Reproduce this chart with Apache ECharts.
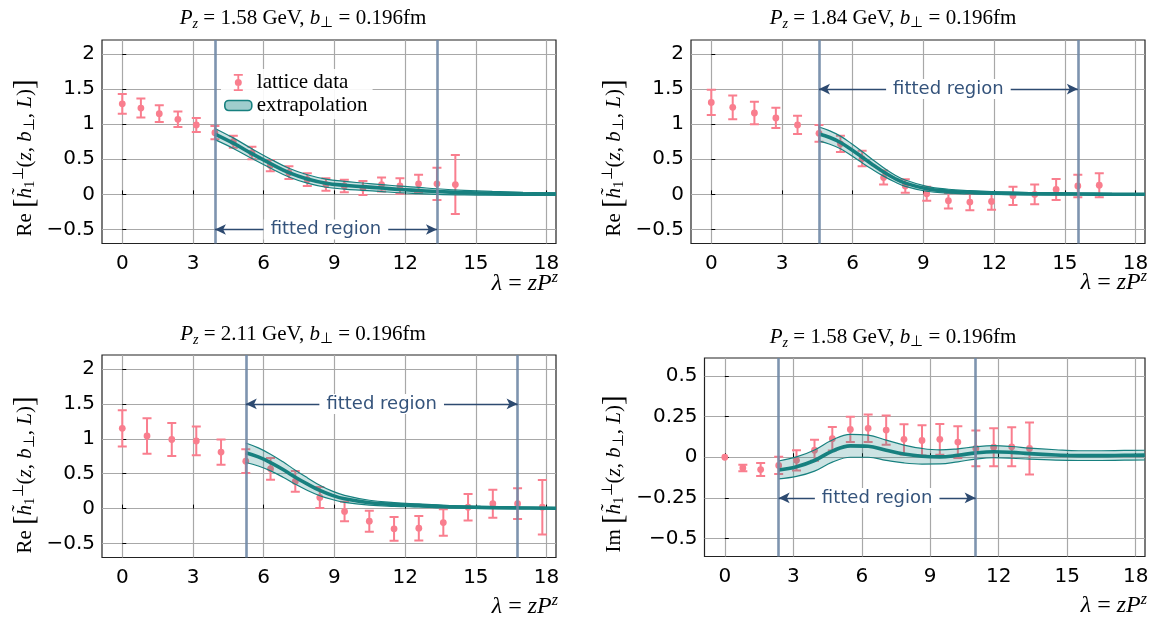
<!DOCTYPE html>
<html>
<head>
<meta charset="utf-8">
<script src="https://cdn.jsdelivr.net/npm/echarts@6.0.0/dist/echarts.min.js"></script>
<style>html,body{margin:0;padding:0;background:#fff}#c{width:1155px;height:619px}</style>
</head>
<body>
<div id="c"></div>
<script>
// ---------------- data ----------------
const xTicks = [0, 3, 6, 9, 12, 15, 18];
const yTicksRe = [-0.5, 0, 0.5, 1, 1.5, 2];
const yTicksIm = [-0.5, -0.25, 0, 0.25, 0.5];

// Panel A: Re, Pz = 1.58 GeV
const lamA = [0, 0.79, 1.57, 2.36, 3.14, 3.93, 4.71, 5.50, 6.28, 7.07, 7.85, 8.64, 9.42, 10.21, 11.00, 11.78, 12.57, 13.35, 14.13];
const valA = [1.29, 1.23, 1.15, 1.07, 0.99, 0.88, 0.75, 0.59, 0.41, 0.31, 0.21, 0.14, 0.12, 0.09, 0.14, 0.12, 0.15, 0.15, 0.14];
const errA = [0.14, 0.135, 0.12, 0.11, 0.10, 0.095, 0.085, 0.09, 0.08, 0.09, 0.09, 0.09, 0.09, 0.10, 0.10, 0.11, 0.13, 0.23, 0.42];
const bandXA = [3.93, 4.71, 5.50, 6.28, 7.07, 7.85, 8.64, 9.42, 10.21, 11.00, 11.78, 12.57, 13.35, 14.5, 15.7, 17.0, 18.4];
const bandMidA = [0.86, 0.73, 0.58, 0.44, 0.31, 0.22, 0.16, 0.13, 0.11, 0.09, 0.07, 0.055, 0.04, 0.025, 0.015, 0.008, 0.004];
const bandHalfA = [0.08, 0.075, 0.07, 0.065, 0.062, 0.06, 0.058, 0.055, 0.052, 0.05, 0.047, 0.044, 0.04, 0.033, 0.027, 0.022, 0.018];
const fitA = [3.93, 13.35];

// Panel B: Re, Pz = 1.84 GeV
const lamB = [0, 0.91, 1.83, 2.74, 3.66, 4.57, 5.48, 6.40, 7.31, 8.23, 9.14, 10.06, 10.97, 11.89, 12.80, 13.72, 14.63, 15.55, 16.46];
const valB = [1.31, 1.24, 1.16, 1.09, 0.99, 0.87, 0.72, 0.51, 0.24, 0.12, 0.01, -0.09, -0.11, -0.10, -0.02, 0.00, 0.07, 0.12, 0.13];
const errB = [0.18, 0.17, 0.16, 0.145, 0.13, 0.12, 0.115, 0.11, 0.10, 0.095, 0.10, 0.11, 0.115, 0.12, 0.13, 0.14, 0.15, 0.16, 0.17];
const bandXB = [4.57, 5.03, 5.48, 5.94, 6.40, 6.86, 7.31, 7.77, 8.23, 9.14, 10.06, 10.97, 11.89, 13.5, 15.5, 17.0, 18.4];
const bandMidB = [0.86, 0.81, 0.74, 0.64, 0.53, 0.42, 0.32, 0.23, 0.16, 0.08, 0.045, 0.03, 0.02, 0.01, 0.005, 0.002, 0.001];
const bandHalfB = [0.10, 0.095, 0.09, 0.085, 0.08, 0.07, 0.06, 0.05, 0.045, 0.035, 0.028, 0.024, 0.02, 0.016, 0.013, 0.011, 0.01];
const fitB = [4.57, 15.55];

// Panel C: Re, Pz = 2.11 GeV
const lamC = [0, 1.05, 2.10, 3.14, 4.19, 5.24, 6.29, 7.34, 8.38, 9.43, 10.48, 11.53, 12.58, 13.62, 14.67, 15.72, 16.77, 17.82];
const valC = [1.15, 1.04, 0.99, 0.97, 0.81, 0.68, 0.57, 0.39, 0.16, -0.04, -0.18, -0.29, -0.28, -0.20, 0.02, 0.07, 0.07, 0.02];
const errC = [0.26, 0.255, 0.235, 0.205, 0.18, 0.17, 0.155, 0.15, 0.15, 0.14, 0.15, 0.17, 0.175, 0.19, 0.19, 0.20, 0.22, 0.39];
const bandXC = [5.24, 5.77, 6.29, 6.82, 7.34, 7.86, 8.38, 8.91, 9.43, 10.48, 11.53, 12.58, 13.62, 15.2, 16.77, 18.4];
const bandMidC = [0.80, 0.74, 0.66, 0.56, 0.45, 0.35, 0.26, 0.19, 0.14, 0.085, 0.06, 0.045, 0.03, 0.018, 0.01, 0.005];
const bandHalfC = [0.14, 0.13, 0.12, 0.11, 0.10, 0.09, 0.075, 0.06, 0.05, 0.035, 0.027, 0.022, 0.018, 0.014, 0.011, 0.009];
const fitC = [5.24, 16.77];

// Panel D: Im, Pz = 1.58 GeV
const lamD = [0, 0.79, 1.57, 2.36, 3.14, 3.93, 4.71, 5.50, 6.28, 7.07, 7.85, 8.64, 9.42, 10.21, 11.00, 11.78, 12.57, 13.35];
const valD = [0.0, -0.066, -0.076, -0.05, -0.019, 0.043, 0.114, 0.171, 0.178, 0.167, 0.11, 0.103, 0.11, 0.093, 0.054, 0.062, 0.064, 0.054];
const errD = [0, 0.02, 0.04, 0.053, 0.062, 0.065, 0.072, 0.078, 0.085, 0.09, 0.093, 0.093, 0.095, 0.097, 0.11, 0.117, 0.12, 0.16];
const bandXD = [2.36, 3.14, 3.93, 4.71, 5.50, 6.28, 7.07, 7.85, 8.64, 9.42, 10.21, 11.00, 11.78, 12.57, 13.35, 14.5, 15.5, 16.5, 17.5, 18.4];
const bandMidD = [-0.078, -0.058, -0.02, 0.038, 0.07, 0.068, 0.043, 0.02, 0.006, 0.002, 0.012, 0.027, 0.034, 0.03, 0.022, 0.014, 0.01, 0.01, 0.012, 0.013];
const bandHalfD = [0.055, 0.06, 0.065, 0.068, 0.07, 0.068, 0.062, 0.055, 0.048, 0.043, 0.04, 0.038, 0.037, 0.036, 0.034, 0.032, 0.03, 0.03, 0.03, 0.03];
const fitD = [2.36, 10.99];

const titles = ['1.58', '1.84', '2.11', '1.58'];
const parts = ['Re', 'Re', 'Re', 'Im'];
const arrowY = [-0.5, 1.5, 1.5, -0.25];

// ---------------- styling ----------------
const TEAL = '#17807f';
const FILL = 'rgba(23,128,127,0.22)';
const PINK = '#f97e8e';
const VLINE = 'rgba(112,136,166,0.9)';
const ARROW = '#2d4a70';
const TXT = '#34537b';
const GRIDC = '#a8a8a8';

const grids = [
  {left: 102, top: 40, width: 454, height: 203.5},
  {left: 691, top: 40, width: 454, height: 203.5},
  {left: 102, top: 355, width: 454, height: 202.5},
  {left: 704.5, top: 358, width: 440.5, height: 198.5}
];
const xRanges = [[-0.86, 18.4], [-0.86, 18.4], [-0.86, 18.4], [-0.89, 18.41]];
const yRanges = [[-0.7, 2.2], [-0.7, 2.2], [-0.7, 2.2], [-0.61, 0.61]];

const panels = [
  {lam: lamA, val: valA, err: errA, bx: bandXA, bm: bandMidA, bh: bandHalfA, fit: fitA},
  {lam: lamB, val: valB, err: errB, bx: bandXB, bm: bandMidB, bh: bandHalfB, fit: fitB},
  {lam: lamC, val: valC, err: errC, bx: bandXC, bm: bandMidC, bh: bandHalfC, fit: fitC},
  {lam: lamD, val: valD, err: errD, bx: bandXD, bm: bandMidD, bh: bandHalfD, fit: fitD}
];

function renderErr(params, api) {
  const x = api.value(0), y = api.value(1), e = api.value(2);
  const p = api.coord([x, y]);
  const children = [];
  const st = {stroke: PINK, lineWidth: 2};
  if (e > 0) {
    const t = api.coord([x, y + e]), b = api.coord([x, y - e]);
    const cap = 4.5;
    children.push({type: 'line', shape: {x1: p[0], y1: t[1], x2: p[0], y2: b[1]}, style: st});
    children.push({type: 'line', shape: {x1: p[0] - cap, y1: t[1], x2: p[0] + cap, y2: t[1]}, style: st});
    children.push({type: 'line', shape: {x1: p[0] - cap, y1: b[1], x2: p[0] + cap, y2: b[1]}, style: st});
  }
  children.push({type: 'circle', shape: {cx: p[0], cy: p[1], r: 3.4}, style: {fill: PINK}});
  return {type: 'group', children};
}

const fmt = v => String(v).replace('-', '\u2212');

const xAxes = [], yAxes = [], series = [];
panels.forEach((P, i) => {
  xAxes.push({
    gridIndex: i, type: 'value', min: xRanges[i][0], max: xRanges[i][1],
    axisLine: {show: false},
    axisTick: {show: true, inside: true, length: 4, customValues: xTicks, lineStyle: {color: '#000'}},
    axisLabel: {customValues: xTicks, fontFamily: 'DejaVu Sans', fontSize: 20, color: '#000', margin: 10, formatter: fmt},
    splitLine: {show: true, lineStyle: {color: GRIDC, width: 1.2}}
  });
  const yt = i === 3 ? yTicksIm : yTicksRe;
  yAxes.push({
    gridIndex: i, type: 'value', min: yRanges[i][0], max: yRanges[i][1],
    axisLine: {show: false},
    axisTick: {show: true, inside: true, length: 4, customValues: yt, lineStyle: {color: '#000'}},
    axisLabel: {customValues: yt, fontFamily: 'DejaVu Sans', fontSize: 20, color: '#000', margin: 7, formatter: fmt},
    splitLine: {show: true, lineStyle: {color: GRIDC, width: 1.2}}
  });
  // lattice data with error bars
  series.push({
    type: 'custom', name: 'lattice data', xAxisIndex: i, yAxisIndex: i, z: 2,
    itemStyle: {color: PINK},
    renderItem: renderErr,
    data: P.lam.map((x, k) => [x, P.val[k], P.err[k]]),
    clip: true
  });
  // fitted-region boundaries (vertical lines)
  series.push({
    type: 'line', name: 'fit' + i, xAxisIndex: i, yAxisIndex: i, z: 5,
    data: [], silent: true,
    markLine: {
      silent: true, symbol: 'none', animation: false,
      lineStyle: {color: VLINE, width: 2.6, type: 'solid'},
      label: {show: false},
      data: [{xAxis: P.fit[0]}, {xAxis: P.fit[1]}]
    }
  });
  // band: value dimension first so that stacking acts on y (encoded via encode)
  const stackId = 'band' + i;
  series.push({
    type: 'line', name: 'band' + i, xAxisIndex: i, yAxisIndex: i, z: 3,
    stack: stackId, stackStrategy: 'all', smooth: 0.4, symbol: 'none', silent: true,
    encode: {x: 1, y: 0},
    lineStyle: {color: TEAL, width: 1.2},
    data: P.bx.map((x, k) => [P.bm[k] - P.bh[k], x])
  });
  series.push({
    type: 'line', name: 'extrapolation', xAxisIndex: i, yAxisIndex: i, z: 3,
    stack: stackId, stackStrategy: 'all', smooth: 0.4, symbol: 'none', silent: true,
    encode: {x: 1, y: 0},
    lineStyle: {color: TEAL, width: 1.2},
    itemStyle: {color: TEAL},
    areaStyle: {color: FILL, opacity: 1},
    data: P.bx.map((x, k) => [2 * P.bh[k], x])
  });
  // central curve + fitted-region arrow
  series.push({
    type: 'line', name: 'central' + i, xAxisIndex: i, yAxisIndex: i, z: 4,
    smooth: 0.4, symbol: 'none', silent: true,
    lineStyle: {color: TEAL, width: 3.6},
    data: P.bx.map((x, k) => [x, P.bm[k]]),
    markLine: {
      silent: true, symbol: ['arrow', 'arrow'], symbolSize: [8, 11], animation: false,
      lineStyle: {color: ARROW, width: 1.3, type: 'solid'},
      label: {show: true, position: 'middle', formatter: 'fitted region', color: TXT,
              fontFamily: 'DejaVu Sans', fontSize: 18, backgroundColor: '#fff', padding: [1, 7],
              distance: 0, verticalAlign: 'middle'},
      data: [[{coord: [P.fit[0], arrowY[i]]}, {coord: [P.fit[1], arrowY[i]]}]]
    }
  });
});

const ERR_ICON = 'path://M0,0 H9 V1.8 H0 Z M3.6,0 H5.4 V6 H3.6 Z M3.6,11 H5.4 V17 H3.6 Z M0,15.2 H9 V17 H0 Z M8,8.5 A3.5,3.5 0 1 1 1,8.5 A3.5,3.5 0 1 1 8,8.5 Z';
const RR_ICON = 'path://M4,0 H23 A4,4 0 0 1 27,4 V6 A4,4 0 0 1 23,10 H4 A4,4 0 0 1 0,6 V4 A4,4 0 0 1 4,0 Z';

const SERIF = 'Liberation Serif';
const rich = {
  r: {fontFamily: SERIF, fontSize: 21, lineHeight: 26, fill: '#000'},
  i: {fontFamily: SERIF, fontStyle: 'italic', fontSize: 21, lineHeight: 26, fill: '#000'},
  s: {fontFamily: SERIF, fontStyle: 'italic', fontSize: 14, lineHeight: 14, verticalAlign: 'bottom', fill: '#000'},
  su: {fontFamily: SERIF, fontSize: 15, lineHeight: 14, verticalAlign: 'bottom', fill: '#000'},
  sp: {fontFamily: SERIF, fontStyle: 'italic', fontSize: 14, lineHeight: 14, verticalAlign: 'top', fill: '#000'},
  spu: {fontFamily: SERIF, fontSize: 15, lineHeight: 14, verticalAlign: 'top', fill: '#000'},
  b: {fontFamily: SERIF, fontSize: 29, lineHeight: 26, fill: '#000'},
  xi: {fontFamily: SERIF, fontStyle: 'italic', fontSize: 24, lineHeight: 28, fill: '#000'},
  xe: {fontFamily: SERIF, fontSize: 24, lineHeight: 28, fill: '#000'},
  xs: {fontFamily: SERIF, fontStyle: 'italic', fontSize: 16, lineHeight: 16, verticalAlign: 'top', fill: '#000'}
};

const titlePos = [[303, 18], [893, 18], [303, 334], [893, 337]];
const ylabPos = [[25, 158], [614, 158], [25, 475], [614, 474]];
const xlabPos = [[558, 284], [1147, 283], [558, 607], [1147, 606]];

const graphics = [];
for (let i = 0; i < 4; i++) {
  graphics.push({
    type: 'text', x: titlePos[i][0], y: titlePos[i][1],
    style: {text: '{i|P}{s|z}{r| = ' + titles[i] + ' GeV, }{i|b}{su|\u22A5}{r| = 0.196fm}', rich,
            align: 'center', verticalAlign: 'middle'}
  });
  graphics.push({
    type: 'text', x: ylabPos[i][0], y: ylabPos[i][1], rotation: Math.PI / 2,
    style: {text: '{r|' + parts[i] + ' }{b|[}{i|h\u0303}{su|1}{spu|\u22A5}{r|(}{i|z}{r|, }{i|b}{su|\u22A5}{r|, }{i|L}{r|)}{b|]}', rich,
            align: 'center', verticalAlign: 'middle'}
  });
  graphics.push({
    type: 'text', x: xlabPos[i][0], y: xlabPos[i][1],
    style: {text: '{xi|\u03BB}{xe| = }{xi|zP}{xs|z}', rich, align: 'right', verticalAlign: 'middle'}
  });
}

const option = {
  animation: false,
  backgroundColor: '#fff',
  grid: grids.map(g => Object.assign({show: true, borderColor: '#222', borderWidth: 1.2, containLabel: false}, g)),
  xAxis: xAxes,
  yAxis: yAxes,
  legend: {
    orient: 'vertical', left: 221, top: 69, itemWidth: 27, itemHeight: 17, itemGap: 2,
    backgroundColor: 'rgba(255,255,255,0.9)', padding: [3, 5, 3, 3], selectedMode: false,
    textStyle: {fontFamily: SERIF, fontSize: 21, color: '#000', lineHeight: 19},
    data: [
      {name: 'lattice data', icon: ERR_ICON, itemStyle: {color: PINK, borderWidth: 0}},
      {name: 'extrapolation', icon: RR_ICON, itemStyle: {color: '#9fcdcd', borderColor: TEAL, borderWidth: 1.6}}
    ]
  },
  graphic: graphics,
  series
};

const chart = echarts.init(document.getElementById('c'));
chart.setOption(option);
</script>
</body>
</html>
